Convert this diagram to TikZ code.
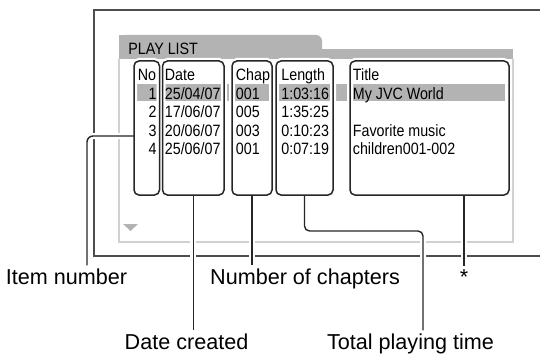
\documentclass[tikz,border=0pt]{standalone}
\usepackage{fontspec}
\setmainfont{Liberation Sans}
\newfontfamily\panelfont[FakeStretch=0.87]{Liberation Sans}
\usetikzlibrary{fit}
\definecolor{bandgray}{HTML}{B3B3B3}
\definecolor{panelgray}{HTML}{D0D0D0}
\definecolor{framegray}{HTML}{4D4D4D}
\tikzset{
  colbox/.style={draw=white, line width=3pt, inner sep=0pt, outer sep=0pt, rounded corners=2.5pt},
  boxline/.style={draw=black!85, line width=0.75pt, rounded corners=2.5pt},
  leader/.style={draw=black!85, line width=0.7pt, rounded corners=2.5pt,
    preaction={draw=white, line width=3pt}},
  cell/.style={anchor=base west, inner sep=0pt, font=\panelfont\fontsize{8.2}{9}\selectfont},
  lbl/.style={anchor=base, inner sep=1.5pt, font=\fontsize{10.8}{13}\selectfont}
}
\begin{document}
\begin{tikzpicture}[x=0.5pt,y=-0.5pt]
  \useasboundingbox (0,0) rectangle (540,353);
  % tab and title band of the screen
  \fill[bandgray, rounded corners=3pt] (119,35) rectangle (322,59);
  \fill[bandgray] (119,35) rectangle (200,59);
  \fill[bandgray] (300,49) rectangle (513,59);
  \node[cell] (playlist) at (128,54.5) {PLAY LIST};
  % light panel edge
  \draw[panelgray, line width=0.6pt] (119,59) -- (119,242) -- (513,242) -- (513,59);
  % selected row and scroll mark
  \fill[bandgray] (137,84) rectangle (505,101);
  \fill[bandgray] (123,224) -- (138,224) -- (130.5,231) -- cycle;
  % outer frame, open at the right
  \draw[framegray, line width=0.75pt] (540,10) -- (94,10) -- (94,256) -- (540,256);
  % column boxes (white casing first)
  \node[colbox, fit={(134,61) (159.5,195)}] (no) {};
  \node[colbox, fit={(162.5,61) (224,195)}] (date) {};
  \node[colbox, fit={(232,61) (272,195)}] (chap) {};
  \node[colbox, fit={(276,61) (333,195)}] (len) {};
  \node[colbox, fit={(350,61) (509,195)}] (title) {};
  % labels
  \node[lbl] (item) at (66.5,284.5) {Item number};
  \node[lbl] (chapters) at (305,284.5) {Number of chapters};
  \node[lbl] (star) at (464,284.5) {*};
  \node[lbl] (created) at (186.5,349.5) {Date created};
  \node[lbl] (total) at (410.5,349.5) {Total playing time};
  % leaders
  \coordinate (itemknee) at (87,136);
  \coordinate (lenknee) at (423,231);
  \draw[leader, rounded corners=3pt] (no.west |- itemknee) -- (itemknee) -- (itemknee |- item.north);
  \draw[leader] (date.south) -- (date.south |- created.north);
  \draw[leader] (chap.south) -- (chap.south |- chapters.north);
  \draw[leader] (len.south) -- (len.south |- lenknee) -- (lenknee) -- (lenknee |- total.north);
  \draw[leader] (star.north |- title.south) -- (star.north);
  % column box outlines
  \foreach \b in {no,date,chap,len,title}
    \draw[boxline] (\b.south west) rectangle (\b.north east);
  % table texts
  \node[cell] (hno) at (137.5,80.5) {No};
  \node[cell] (hdate) at (164.5,80.5) {Date};
  \node[cell] (hchap) at (235.5,80.5) {Chap};
  \node[cell] (hlen) at (281,80.5) {Length};
  \node[cell] (htitle) at (352.5,80.5) {Title};
  \foreach \i in {1,...,4}
    \node[cell, anchor=base east] (no\i) at (157,80.5+18.5*\i) {\i};
  \foreach \d [count=\i] in {25/04/07,17/06/07,20/06/07,25/06/07}
    \node[cell] (date\i) at (164.5,80.5+18.5*\i) {\d};
  \foreach \c [count=\i] in {001,005,003,001}
    \node[cell] (chap\i) at (235.5,80.5+18.5*\i) {\c};
  \foreach \l [count=\i] in {1:03:16,1:35:25,0:10:23,0:07:19}
    \node[cell] (len\i) at (281,80.5+18.5*\i) {\l};
  \foreach \t/\i in {My JVC World/1,Favorite music/3,children001-002/4}
    \node[cell] (title\i) at (352.5,80.5+18.5*\i) {\t};
\end{tikzpicture}
\end{document}
